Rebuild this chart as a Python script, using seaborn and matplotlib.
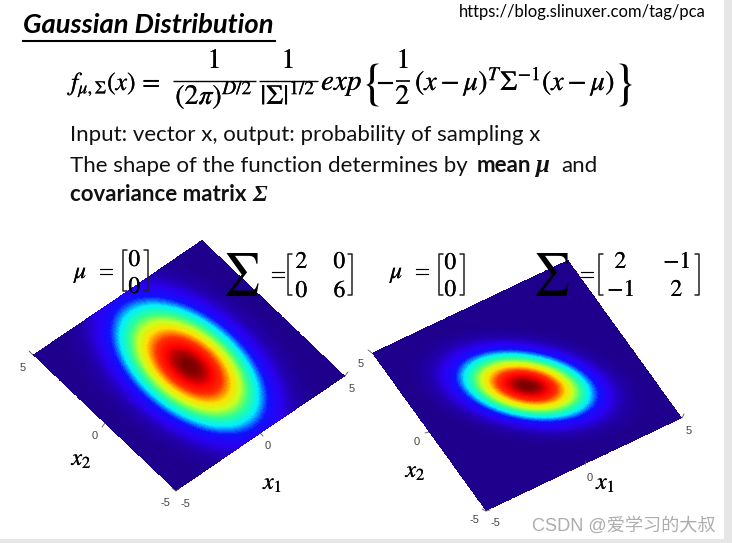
import numpy as np
import matplotlib
matplotlib.use("Agg")
import matplotlib.pyplot as plt
import matplotlib.patheffects as pe
import seaborn as sns
from matplotlib.colors import LinearSegmentedColormap
from matplotlib.transforms import Affine2D

# Distribution parameters shown on the slide
mu = [0, 0]
sigma_left = [[2, 0], [0, 6]]
sigma_right = [[2, -1], [-1, 2]]
axis_range = [-5, 5]
grid_size = 400

# Plot corners in picture pixels: origin (-5,-5), end of x1, end of x2
corners_left = [(176, 491), (345, 376), (33, 355)]
corners_right = [(486, 511), (682, 418), (372, 353)]

# Tick labels around the two surfaces
tick_labels_left = ["5", "0", "-5", "-5", "0", "5"]
tick_labels_right = ["5", "0", "-5", "-5", "0", "5"]

body_lines = [
    "Input: vector x, output: probability of sampling x",
    "The shape of the function determines by",
]

sns.set_theme(style="white")
plt.rcParams["font.family"] = ["Lato", "DejaVu Sans"]
plt.rcParams["mathtext.fontset"] = "stix"

TEXT = "#111111"

# jet like map with an indigo floor
jet = LinearSegmentedColormap.from_list(
    "slide_jet",
    [(0.0, "#1e008c"), (0.04, "#2200b0"), (0.09, "#2a00f0"), (0.17, "#1010ff"),
     (0.26, "#00f0ff"), (0.37, "#30ff90"), (0.49, "#c8ff20"), (0.60, "#ffe000"),
     (0.75, "#ff3000"), (0.87, "#ff0000"), (1.0, "#7a0000")],
    N=96,
)


def density(sigma):
    values = np.linspace(axis_range[0], axis_range[1], grid_size)
    x1, x2 = np.meshgrid(values, values)
    inv = np.linalg.inv(np.array(sigma))
    d1 = x1 - mu[0]
    d2 = x2 - mu[1]
    q = inv[0, 0] * d1 * d1 + 2 * inv[0, 1] * d1 * d2 + inv[1, 1] * d2 * d2
    return np.exp(-0.5 * q)


def surface(ax, sigma, corners):
    before = len(ax.collections)
    sns.heatmap(density(sigma), ax=ax, cmap=jet, vmin=0, vmax=1, cbar=False,
                xticklabels=False, yticklabels=False)
    mesh = ax.collections[before]
    o, a, b = [np.array(c, dtype=float) for c in corners]
    ex = (a - o) / grid_size
    ey = (b - o) / grid_size
    mat = [[ex[0], ey[0], o[0]], [ex[1], ey[1], o[1]], [0, 0, 1]]
    mesh.set_transform(Affine2D(np.array(mat)) + ax.transData)
    mesh.set_zorder(1)


fig = plt.figure(figsize=(7.32, 5.43), dpi=100)
ax = fig.add_axes([0, 0, 1, 1])

surface(ax, sigma_left, corners_left)
surface(ax, sigma_right, corners_right)

ax.set_xlim(0, 732)
ax.set_ylim(543, 0)
ax.set_xticks([])
ax.set_yticks([])
ax.set_facecolor("white")
for s in ax.spines.values():
    s.set_visible(False)

# window edge of the screenshot
ax.fill_between([724, 732], 0, 543, color="#e6e6e6", lw=0, zorder=0)
ax.fill_between([0, 732], 539, 543, color="#e6e6e6", lw=0, zorder=0)


def t(x, y, s, size=16, ha="left", va="baseline", **kw):
    kw.setdefault("color", TEXT)
    return ax.text(x, y, s, fontsize=size, ha=ha, va=va, zorder=5, **kw)


# math text is thin in stix, thicken it a little
def m(x, y, s, size=20, ha="left", va="baseline", stroke=0.12):
    txt = t(x, y, s, size=size, ha=ha, va=va, color="black")
    if stroke:
        txt.set_path_effects([pe.withStroke(linewidth=stroke, foreground="black")])
    return txt


def rule(x0, x1, y, lw=1.0, color="black"):
    ax.plot([x0, x1], [y, y], color=color, lw=lw, solid_capstyle="butt", zorder=5)


def bracket(x0, x1, y0, y1):
    arm = 4
    ax.plot([x0 + arm, x0, x0, x0 + arm], [y0, y0, y1, y1], color="#222222", lw=1.1, zorder=5)
    ax.plot([x1 - arm, x1, x1, x1 - arm], [y0, y0, y1, y1], color="#222222", lw=1.1, zorder=5)


# header
t(23, 33, "Gaussian Distribution", size=19.7, fontweight="bold", fontstyle="italic", color="black")
rule(22, 276, 40.5, lw=1.5)
t(459, 17, "https://blog.slinuxer.com/tag/pca", size=12, color="black")

# formula
m(71, 90, r"$f_{\mu,\Sigma}(x)\,=$", size=18.5)
m(214, 68, r"$1$", ha="center")
rule(173, 256, 81)
m(214, 104, r"$(2\pi)^{D/2}$", ha="center")
m(288, 68, r"$1$", ha="center")
rule(259, 318, 81)
m(288, 104, r"$|\Sigma|^{1/2}$", ha="center")
m(321, 90, r"$exp$", size=21)
m(370, 79, r"$\{$", size=36, ha="center", va="center_baseline", stroke=0)
m(376, 90, r"$-$")
m(403, 68, r"$1$", ha="center")
rule(396, 410, 81, lw=1.2)
m(403, 104, r"$2$", ha="center")
m(415, 90, r"$(x-\mu)^{T}\Sigma^{-1}(x-\mu)$")
m(623, 79, r"$\}$", size=36, ha="center", va="center_baseline", stroke=0)

# body text
t(70, 141, body_lines[0], size=16)
t(70, 172, body_lines[1], size=16)
t(477, 172, "mean", size=16, fontweight="bold")
t(535, 172, "μ", size=18, fontweight="bold", fontstyle="italic", family="Liberation Serif")
t(561, 172, "and", size=16)
t(70, 201, "covariance matrix", size=16, fontweight="bold")
t(252, 201, "Σ", size=17, fontweight="bold", fontstyle="italic", family="Liberation Serif")

# matrices, left pair
M = 17
m(74, 278, r"$\mu$", size=M)
m(95, 278, r"$=$", size=M)
bracket(123, 148, 250, 291)
m(135, 266, r"$0$", size=M, ha="center")
m(135, 293, r"$0$", size=M, ha="center")
m(241, 274, r"$\sum$", size=30, ha="center", va="center", stroke=0)
m(267, 281, r"$=$", size=M)
bracket(288, 352, 254, 295)
for x, y, s in [(302, 268, "2"), (340, 268, "0"), (302, 297, "0"), (340, 297, "6")]:
    m(x, y, "$" + s + "$", size=M, ha="center")

# matrices, right pair
m(390, 278, r"$\mu$", size=M)
m(411, 278, r"$=$", size=M)
bracket(439, 464, 254, 295)
m(451, 269, r"$0$", size=M, ha="center")
m(451, 296, r"$0$", size=M, ha="center")
m(551, 274, r"$\sum$", size=30, ha="center", va="center", stroke=0)
m(576, 281, r"$=$", size=M)
bracket(599, 699, 254, 295)
for x, y, s in [(621, 268, "2"), (677, 268, "-1"), (621, 296, "-1"), (677, 296, "2")]:
    m(x, y, "$" + s + "$", size=M, ha="center")

# ticks on the surfaces
for xs, ys in [([33, 29], [355, 351]), ([105, 102], [423, 427]), ([176, 180], [491, 488]),
               ([176, 172], [491, 488]), ([260, 263], [433, 436]), ([345, 348], [376, 372]),
               ([372, 368], [353, 350]), ([429, 425], [432, 433]), ([486, 490], [511, 510]),
               ([486, 482], [511, 509]), ([585, 586], [465, 461]), ([682, 684], [418, 414])]:
    ax.plot(xs, ys, color="#555555", lw=0.6, zorder=4)

tick_pos_left = [(23, 368), (95, 436), (165, 503), (185, 504), (268, 446), (352, 389)]
for (x, y), s in zip(tick_pos_left, tick_labels_left):
    t(x, y, s, size=8, ha="center", va="center", family="Liberation Sans", color="#444444")
tick_pos_right = [(361, 364), (417, 442), (474, 520), (495, 523), (590, 478), (689, 431)]
for (x, y), s in zip(tick_pos_right, tick_labels_right):
    t(x, y, s, size=8, ha="center", va="center", family="Liberation Sans", color="#444444")

# axis names
m(82, 465, r"$x_2$", size=17, ha="center")
m(273, 489, r"$x_1$", size=17, ha="center")
m(416, 477, r"$x_2$", size=17, ha="center")
m(606, 489, r"$x_1$", size=17, ha="center")

# watermark
t(532, 531, "CSDN @爱学习的大叔", size=13.1, color="#adadad",
  family=["Liberation Sans", "Noto Sans CJK SC", "DejaVu Sans"])

fig.savefig("out.png", dpi=100)
